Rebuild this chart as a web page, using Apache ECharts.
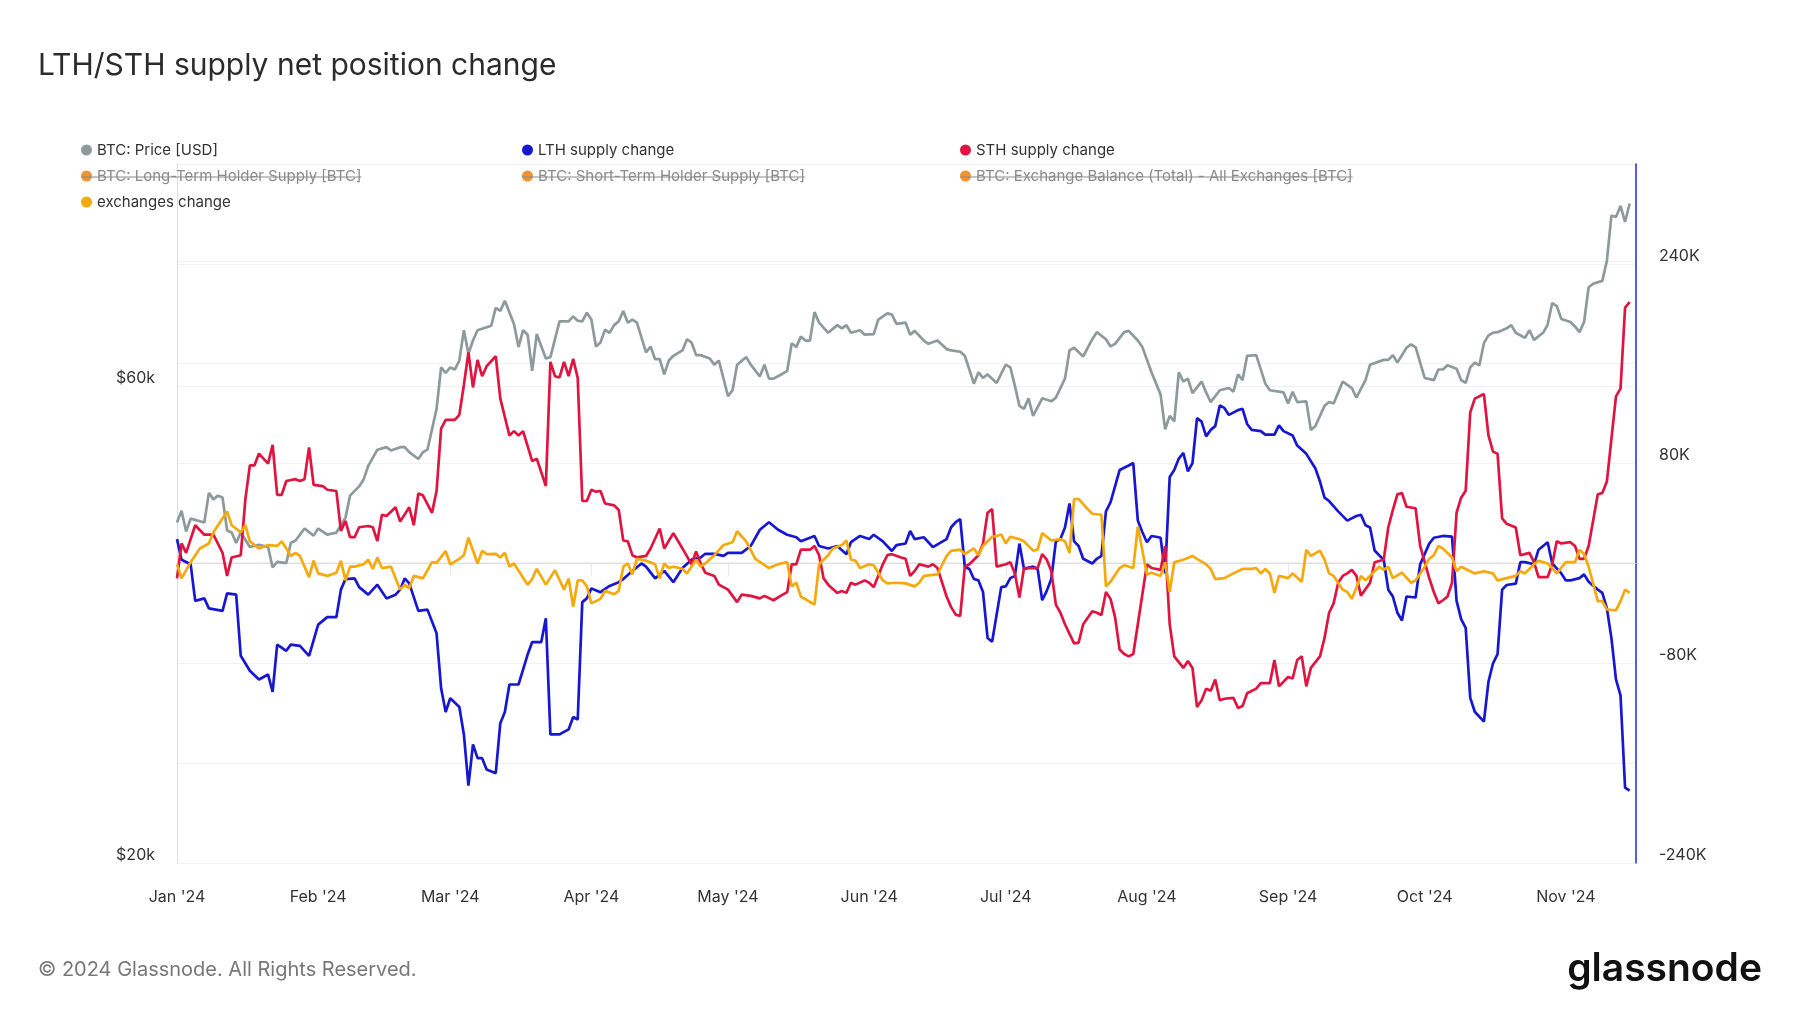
<!DOCTYPE html>
<html><head><meta charset="utf-8">
<script src="https://cdn.jsdelivr.net/npm/echarts@6/dist/echarts.min.js"></script>
<style>html,body{margin:0;padding:0;background:#fff}#c{width:1800px;height:1013px}</style>
</head><body><div id="c"></div>
<script>
// ---- data (day offset from 2024-01-01, value) ----
const startDate = Date.UTC(2024, 0, 1);
const DAY = 86400000;
const monthLabels = ["Jan '24","Feb '24","Mar '24","Apr '24","May '24","Jun '24","Jul '24","Aug '24","Sep '24","Oct '24","Nov '24"];
const priceTickLabels = [20, 60];          // $k
const priceGridValues = [20, 40, 60, 80, 100];
const changeTickLabels = [-240, -80, 80, 240]; // K

// BTC price, thousand USD
const price = [[0,43.8],[1,45.0],[2,42.9],[3,44.2],[6,43.8],[7,46.9],[8,46.2],[9,46.6],[10,46.4],[11,43.0],[12,42.8],[13,41.8],[14,42.8],[16,41.4],[18,41.6],[20,41.4],[21,39.5],[22,40.0],[24,39.9],[25,41.8],[26,42.0],[28,43.2],[30,42.5],[31,43.2],[33,42.6],[35,42.8],[37,44.3],[38,46.6],[40,47.6],[41,48.4],[42,49.9],[44,51.8],[46,52.1],[47,51.7],[49,52.1],[50,52.1],[51,51.5],[53,50.7],[54,51.5],[55,51.8],[57,56.9],[58,62.6],[59,61.8],[60,62.6],[61,62.3],[62,63.6],[63,68.2],[64,64.6],[65,66.6],[66,68.2],[69,68.9],[70,71.8],[71,71.3],[72,73.0],[74,69.2],[75,65.6],[76,68.2],[77,67.5],[78,62.1],[79,67.6],[81,63.9],[82,64.1],[84,69.6],[86,69.6],[87,70.4],[88,69.7],[89,69.6],[90,71.0],[91,69.9],[92,65.7],[93,66.3],[94,68.3],[95,67.8],[96,69.0],[97,69.6],[98,71.3],[99,69.4],[100,69.9],[101,69.4],[103,64.8],[104,65.7],[105,63.8],[106,63.8],[107,61.6],[108,63.6],[109,64.3],[111,65.1],[112,66.8],[113,66.3],[114,64.4],[115,64.4],[117,63.9],[118,63.0],[119,63.6],[121,58.6],[122,59.4],[123,63.0],[125,64.1],[126,63.0],[128,61.3],[129,63.0],[130,61.0],[131,61.0],[133,61.7],[134,62.1],[135,66.2],[136,65.6],[137,67.2],[138,66.6],[139,66.6],[140,71.1],[141,69.4],[143,67.8],[145,69.0],[146,68.5],[147,69.0],[148,67.8],[150,68.2],[151,67.5],[153,67.6],[154,69.9],[156,70.9],[157,70.7],[158,69.2],[160,69.4],[161,67.5],[162,68.1],[164,66.6],[165,66.1],[167,66.6],[169,65.3],[170,65.1],[172,64.9],[173,64.3],[174,62.3],[175,60.3],[176,61.9],[177,61.1],[178,61.6],[180,60.4],[181,61.7],[182,63.0],[183,62.6],[184,60.0],[185,57.3],[186,56.9],[187,58.3],[188,56.0],[190,58.3],[192,57.9],[193,58.4],[195,61.0],[196,65.1],[197,65.5],[199,64.2],[201,66.8],[202,67.9],[204,66.8],[205,65.7],[206,66.1],[208,67.9],[209,68.1],[211,66.6],[212,65.6],[214,61.9],[216,58.8],[217,54.3],[218,56.0],[219,55.3],[220,61.9],[221,60.6],[222,61.0],[223,59.0],[225,60.6],[226,59.1],[227,57.8],[229,59.4],[231,59.7],[232,59.2],[233,61.6],[234,60.8],[235,64.3],[237,64.4],[239,60.3],[240,59.4],[243,59.1],[244,57.6],[245,59.2],[246,57.8],[248,57.9],[249,54.2],[250,54.7],[252,57.3],[253,57.8],[254,57.6],[256,60.6],[258,59.7],[259,58.4],[261,60.8],[262,63.0],[265,63.7],[266,63.7],[267,64.4],[268,63.3],[270,65.5],[271,66.0],[272,65.6],[273,63.3],[274,61.1],[276,60.8],[277,62.3],[278,62.3],[279,62.9],[281,62.4],[282,60.8],[283,60.4],[284,62.6],[285,63.3],[286,62.9],[287,66.2],[288,67.4],[289,67.8],[290,67.9],[292,68.5],[293,69.0],[294,67.8],[296,67.0],[297,68.2],[298,66.7],[300,67.8],[301,69.1],[302,72.6],[303,72.1],[304,70.0],[306,69.5],[307,68.8],[308,67.9],[309,69.5],[310,75.3],[311,75.9],[313,76.4],[314,80.0],[315,88.8],[316,88.5],[317,90.8],[318,87.5],[319,91.3]];

// LTH supply change, thousand BTC
const lthChange = [[0,19.5],[1,3],[3,-0.7],[4,-30],[6,-28],[7,-36],[10,-38],[11,-24],[13,-25],[14,-74],[16,-86],[18,-93],[20,-89],[21,-103],[22,-65],[24,-70],[25,-65],[27,-66],[29,-74],[31,-49],[33,-43],[35,-43],[36,-21],[37,-12.5],[39,-12],[40,-19],[42,-25],[44,-17],[46,-28],[48,-25],[49,-21],[50,-12],[51,-16],[53,-38],[55,-37],[57,-56],[58,-100],[59,-119],[60,-108],[62,-115],[63,-137],[64,-178],[65,-145],[66,-156],[67,-156],[68,-165],[70,-168],[71,-128],[72,-119],[73,-97],[75,-97],[77,-73],[78,-63],[80,-63],[81,-44],[82,-137],[83,-137],[84,-137],[86,-133],[87,-123],[88,-125],[89,-31],[90,-28],[91,-20],[93,-23],[95,-18],[97,-15],[98,-12.5],[100,-6],[102,0],[103,-2.6],[105,-12],[107,-6],[109,-15],[111,-3.7],[113,3],[115,4.8],[116,7.7],[118,7.7],[120,6],[121,8.5],[124,8.5],[126,14],[128,27],[130,33],[132,27],[134,23],[136,21],[137,17.7],[140,22],[141,14],[143,12],[145,14],[147,7.4],[148,17],[150,22],[152,19.5],[153,23],[155,17.7],[157,10],[158,14.7],[160,16],[161,26],[162,19.5],[164,21],[166,13],[169,19.5],[170,29],[171,33],[172,35.4],[173,-2.6],[174,-4.4],[175,-12.5],[176,-13.6],[177,-22.9],[178,-59.7],[179,-62.7],[181,-19],[182,-18.4],[183,-11.8],[184,-10],[185,15.9],[186,-4.4],[188,-2.6],[189,-4.4],[190,-29.5],[191,-22],[192,-12.5],[193,17.7],[194,19.5],[195,28.8],[196,48],[197,17.7],[198,14],[199,3.7],[201,0],[202,3.7],[203,6],[204,41.7],[205,49],[207,74.8],[209,78.5],[210,80.4],[211,34.3],[212,25],[213,17],[214,22],[215,21.4],[216,20.6],[217,-8],[218,69.3],[219,74.8],[220,84],[221,88.5],[222,73.7],[223,80.4],[224,116.5],[225,113.6],[226,101.8],[227,107],[228,110],[229,126.5],[230,124.6],[231,119],[233,122.8],[234,123.9],[235,111.7],[236,107],[238,106],[239,103.2],[241,103.2],[242,110.6],[243,106],[245,102.5],[246,94.4],[248,87.8],[250,76],[251,65.6],[252,52.7],[253,50],[255,41.7],[257,34.3],[259,38],[260,39],[261,30.6],[262,28.8],[263,10.3],[264,6.6],[265,3],[266,-21],[267,-26.5],[268,-39.5],[269,-45.7],[270,-26.5],[272,-27.3],[273,-0.7],[275,15.9],[276,20.6],[278,22],[280,21.4],[281,-30],[282,-44.6],[283,-51.6],[284,-107.7],[285,-118.8],[287,-126.8],[288,-94.8],[289,-80],[290,-72.6],[291,-21],[292,-17.3],[294,-16.2],[295,1],[296,1],[298,-0.7],[299,11],[301,17],[302,0],[304,-8],[305,-13.6],[306,-13.6],[308,-11.8],[309,-8.8],[310,-14.7],[312,-21],[313,-23.6],[314,-35.8],[315,-59.7],[316,-92.9],[317,-105.8],[318,-179.6],[319,-182]];

// STH supply change, thousand BTC
const sthChange = [[0,-12],[1,16],[2,8.5],[4,30.6],[6,23],[8,23],[10,8.5],[11,-10],[12,4.8],[14,6.6],[15,51],[16,78.5],[17,78.5],[18,88],[20,80],[21,95],[22,55],[23,55],[24,66],[26,67.5],[27,66],[28,67.5],[29,93],[30,63],[32,62],[33,59],[35,58],[36,26],[37,34],[38,21],[39,21],[40,29],[42,30],[43,29],[44,18],[45,39],[46,38],[48,45],[49,33.5],[51,45],[52,30.6],[53,56],[54,54.6],[56,40.5],[57,58],[58,108],[59,115],[61,115],[62,119],[63,143],[64,169],[65,141],[66,163],[67,150],[68,158],[70,166],[71,132],[73,102.5],[74,106],[75,102.5],[76,106],[78,82],[79,84],[81,62],[82,161.5],[83,150],[84,149],[85,161.5],[86,150],[87,164],[88,148.6],[89,50],[90,50],[91,59],[92,57.5],[93,58],[94,48],[96,46.5],[97,42.8],[98,18.4],[99,17.7],[100,6.6],[101,4.8],[103,6],[104,12],[106,28],[107,12],[109,24.3],[111,12],[113,-0.7],[114,9.6],[115,0],[116,-7.4],[118,-10],[119,-17],[121,-21],[123,-31],[124,-25],[126,-26],[128,-28],[129,-26],[131,-29.5],[133,-25],[134,-23],[135,-0.7],[136,-0.7],[137,11],[139,11],[140,14],[141,6.6],[142,-12],[143,-17],[145,-23.6],[146,-22],[147,-23.6],[148,-15.5],[149,-17],[151,-13.6],[152,-15.5],[153,-19],[155,-0.7],[156,6.6],[157,7.4],[159,4.8],[160,3.7],[161,-10],[162,-6],[163,-0.7],[165,-2.6],[166,-0.7],[167,-3.7],[169,-26.5],[170,-35],[171,-41],[172,-42],[173,-2.6],[174,-0.7],[176,6.6],[177,16],[178,40.6],[179,43.5],[180,-2.6],[182,-0.7],[183,1],[184,-8],[185,-27.3],[186,-3.7],[188,-3.7],[189,-3.7],[190,7.4],[191,3],[192,-6],[193,-33],[194,-39.5],[195,-48.7],[197,-64],[198,-63.4],[199,-48.7],[201,-38.3],[202,-39.5],[203,-41.3],[204,-22.9],[205,-28.4],[206,-43],[207,-69],[208,-72.6],[209,-74.5],[210,-72.6],[211,-48.7],[213,-0.7],[214,-3.7],[216,-5.2],[217,14],[218,-48.7],[219,-74.5],[221,-83.7],[222,-78.2],[223,-83.7],[224,-115],[225,-109.6],[226,-100.3],[227,-102],[228,-93],[229,-109.6],[230,-108.4],[232,-107.7],[233,-115.8],[234,-114.3],[235,-104],[237,-100.3],[238,-95.9],[240,-95.9],[241,-77.4],[242,-98.5],[244,-91],[245,-92.2],[246,-77.4],[247,-74.5],[248,-98.5],[249,-83.7],[251,-74.5],[252,-59.7],[253,-39.5],[254,-32],[255,-15.5],[256,-10],[257,-8],[258,-5.2],[259,-10],[260,-25.8],[262,-15.5],[263,1],[265,3],[266,28.8],[267,42.8],[268,55.3],[269,56.4],[270,45.4],[272,44.2],[273,14],[275,-11.8],[276,-22.9],[277,-32],[278,-29.5],[279,-26.5],[280,-15.5],[281,40.6],[282,52.7],[283,58.3],[284,121],[285,132],[287,135.7],[288,102.5],[289,89.6],[290,87.8],[291,36],[292,31.7],[294,28.8],[295,6.6],[297,8.5],[298,1],[299,-11],[301,-11],[302,-0.7],[303,17.7],[304,16],[306,17],[307,14],[308,3.7],[309,3.7],[310,14],[312,55.3],[313,56.4],[314,65.6],[316,133.8],[317,140],[318,205],[319,209.4]];

// exchanges change, thousand BTC
const exchChange = [[0,-0.7],[1,-12],[3,1],[5,12],[7,16],[8,25],[9,30.6],[11,41.7],[12,30.6],[14,25],[15,30.6],[16,17.7],[18,12],[20,14.7],[22,14],[23,17.7],[25,6],[26,8.5],[27,6],[29,-11],[30,2.2],[31,-8],[33,-10],[35,-7.4],[36,2.2],[37,-13.6],[38,-2.6],[39,-2.6],[41,-0.7],[42,3],[43,-4.4],[44,4.8],[45,-3.7],[47,-2.6],[49,-21],[50,-17],[51,-20],[52,-10],[54,-12],[56,1],[57,0.4],[59,10],[60,-0.7],[62,3.7],[63,6.6],[64,20.6],[66,0],[67,10],[68,7.4],[70,7.7],[71,4.8],[72,8.5],[73,-2.6],[74,0],[77,-17],[78,-12.5],[79,-4.4],[81,-17],[83,-5.5],[85,-21],[86,-12],[87,-34.7],[88,-13.6],[89,-13.6],[90,-18.4],[91,-32],[93,-28.4],[94,-22],[96,-24.7],[97,-22],[98,-2.6],[99,0],[100,-8.8],[101,3.7],[103,2.2],[105,-0.7],[106,-12],[107,0],[108,-3.7],[109,-2.6],[111,-4.4],[112,-8],[114,3],[115,-2.6],[116,0],[118,6.6],[120,14.7],[122,17],[123,25.8],[125,17.7],[127,3.7],[130,-3.7],[132,-0.7],[134,1],[135,-18.4],[136,-15.5],[137,-26.5],[140,-33],[141,-0.7],[143,6.6],[144,12],[146,14.7],[147,18.4],[148,3],[149,2.2],[150,-3.7],[152,-0.7],[153,-1.5],[155,-13.6],[156,-16],[158,-15.5],[160,-16],[162,-18.4],[163,-15.5],[164,-10],[167,-8.8],[169,6],[170,10],[172,11],[173,7.4],[175,12],[176,6.6],[177,14],[179,21.4],[180,22],[181,23.2],[182,16],[183,21.4],[185,19.5],[186,17.7],[188,10.3],[189,11],[190,24.3],[191,21.4],[192,18.4],[194,19.5],[195,17.7],[196,8.5],[197,51.6],[198,51.6],[200,43.5],[201,39.8],[203,39],[204,-18.4],[205,-14.7],[207,-3.7],[208,-1.5],[210,-3.7],[211,29.5],[213,-8.8],[214,-7.4],[216,-10],[217,1],[218,-22.9],[219,1],[221,3],[223,6],[224,3.7],[226,-0.7],[227,-4.4],[228,-12.5],[230,-11.8],[232,-8],[234,-4.4],[236,-4.4],[237,-3.7],[238,-8],[239,-4.4],[240,-8],[241,-23.6],[242,-10],[244,-11.8],[245,-8],[247,-14.7],[248,11],[249,6],[251,10.3],[252,3],[253,-8],[254,-10],[256,-21],[257,-22.9],[258,-28.4],[260,-10],[261,-13.6],[263,-6.3],[264,-2.6],[265,-5.2],[266,-2.6],[267,-11.8],[269,-7.4],[271,-15.5],[272,-13.6],[274,-2.6],[275,3.7],[276,6.6],[277,14],[278,12],[280,4.8],[281,-6.3],[282,-2.6],[284,-6.3],[285,-8],[287,-6.3],[289,-8],[290,-13.6],[292,-11.8],[294,-10],[295,-6.3],[296,-8],[298,-0.7],[299,2.2],[301,0],[302,-3.7],[303,-8],[305,1],[307,1],[308,11],[309,7.4],[310,-2.6],[312,-30.2],[313,-30.2],[314,-36.9],[316,-37.6],[317,-30.2],[318,-21],[319,-23.6]];

// ---- chart ----
const toTime = arr => arr.map(p => [startDate + p[0] * DAY, p[1]]);
const monthTicks = monthLabels.map((_, i) => Date.UTC(2024, i, 1));
const FONT = 'Inter, "Noto Sans", sans-serif';

const names = {
  price: 'BTC: Price [USD]',
  lth: 'LTH supply change',
  sth: 'STH supply change',
  lts: 'BTC: Long-Term Holder Supply [BTC]',
  sts: 'BTC: Short-Term Holder Supply [BTC]',
  eb: 'BTC: Exchange Balance (Total) - All Exchanges [BTC]',
  ex: 'exchanges change'
};
const struckColor = '#8a8a8a';
const legendCols = [81, 522, 960];
const legendRows = [150, 176, 202];
const legendFont = 15;

function legend(col, items) {
  return {
    orient: 'vertical', left: legendCols[col], top: legendRows[0] - 8, padding: 0,
    itemWidth: 11, itemHeight: 11, itemGap: 10, icon: 'circle', selectedMode: false,
    textStyle: { fontFamily: FONT, fontSize: legendFont, color: '#333', lineHeight: 16 },
    data: items.map(n => [names.lts, names.sts, names.eb].includes(n) ? { name: n, textStyle: { color: struckColor } } : n)
  };
}

// strike-through lines for disabled legend items
const ctx = document.createElement('canvas').getContext('2d');
ctx.font = legendFont + 'px ' + FONT;
const struck = [[0, 1, names.lts], [1, 1, names.sts], [2, 1, names.eb]];
const strikeGraphics = struck.map(([c, r, n]) => ({
  type: 'line', silent: true,
  shape: { x1: legendCols[c], y1: legendRows[r] + 1, x2: legendCols[c] + 16 + ctx.measureText(n).width, y2: legendRows[r] + 1 },
  style: { stroke: struckColor, lineWidth: 1.2 }, z: 100
}));

const lineSeries = (name, data, color, yAxisIndex) => ({
  name, type: 'line', data: toTime(data), yAxisIndex, showSymbol: false, symbol: 'none',
  lineStyle: { color, width: 2.7 }, itemStyle: { color }, emphasis: { disabled: true }, clip: true
});

const chart = echarts.init(document.getElementById('c'), null, { renderer: 'canvas' });
chart.setOption({
  animation: false,
  backgroundColor: '#fff',
  title: {
    text: 'LTH/STH supply net position change', left: 33, top: 46,
    textStyle: { fontFamily: FONT, fontSize: 30, fontWeight: 'normal', color: '#2b2b2b' }
  },
  legend: [
    legend(0, [names.price, names.lts, names.ex]),
    legend(1, [names.lth, names.sts]),
    legend(2, [names.sth, names.eb])
  ],
  grid: { left: 177, right: 164, top: 164, bottom: 150, containLabel: false },
  xAxis: {
    type: 'value', min: startDate, max: startDate + 320.4 * DAY,
    axisLine: { show: true, lineStyle: { color: '#dedede', width: 1 } },
    axisTick: { show: true, length: 12, customValues: monthTicks, lineStyle: { color: '#e8e8e8' } },
    axisLabel: {
      customValues: monthTicks, margin: 26, color: '#333', fontSize: 16, fontFamily: FONT,
      formatter: v => { const i = monthTicks.indexOf(v); return i >= 0 ? monthLabels[i] : ''; }
    },
    splitLine: { show: false }
  },
  yAxis: [
    {
      type: 'log', logBase: 10, min: 20, max: 100, position: 'left',
      axisLine: { show: true, lineStyle: { color: '#dedede' } },
      axisTick: { show: false, customValues: priceGridValues },
      axisLabel: {
        customValues: priceTickLabels, margin: 22, color: '#333', fontSize: 16, fontFamily: FONT,
        verticalAlign: 'bottom', formatter: v => '$' + Math.round(v) + 'k'
      },
      splitLine: { show: true, lineStyle: { color: '#f1f1f1' } }
    },
    {
      type: 'value', min: -240, max: 320, interval: 80, position: 'right',
      axisLine: { show: true, lineStyle: { color: '#2626cf', width: 1.5 } },
      axisTick: { show: false },
      axisLabel: {
        margin: 23, color: '#333', fontSize: 16, fontFamily: FONT, verticalAlign: 'bottom',
        formatter: v => changeTickLabels.includes(v) ? v + 'K' : ''
      },
      splitLine: { show: true, lineStyle: { color: '#f1f1f1' } }
    }
  ],
  series: [
    lineSeries(names.price, price, '#8c9b9a', 0),
    lineSeries(names.lth, lthChange, '#1717d2', 1),
    lineSeries(names.sth, sthChange, '#e01440', 1),
    { name: names.lts, type: 'line', data: [], yAxisIndex: 1, itemStyle: { color: '#f0922e' }, lineStyle: { color: '#f0922e' } },
    { name: names.sts, type: 'line', data: [], yAxisIndex: 1, itemStyle: { color: '#f0922e' }, lineStyle: { color: '#f0922e' } },
    { name: names.eb, type: 'line', data: [], yAxisIndex: 1, itemStyle: { color: '#f0922e' }, lineStyle: { color: '#f0922e' } },
    lineSeries(names.ex, exchChange, '#f6a90d', 1)
  ],
  graphic: strikeGraphics.concat([
    { type: 'text', left: 38, top: 960, silent: true,
      style: { text: '© 2024 Glassnode. All Rights Reserved.', font: '20px ' + FONT, fill: '#777' } },
    { type: 'text', right: 38, top: 950, silent: true,
      style: { text: 'glassnode', font: '600 39px ' + FONT, fill: '#111' } }
  ])
});
</script>
</body></html>
